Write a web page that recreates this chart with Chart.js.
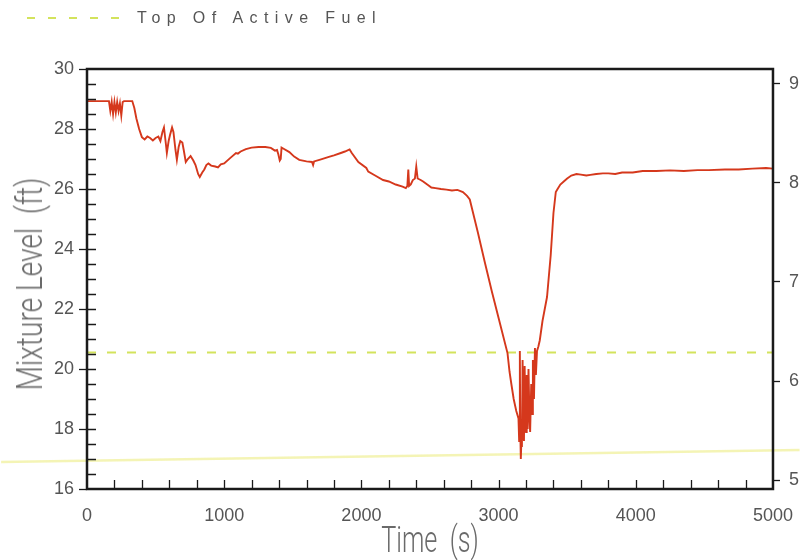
<!DOCTYPE html>
<html lang="en">
<head>
<meta charset="UTF-8">
<title>Mixture Level</title>
<script src="https://cdn.jsdelivr.net/npm/chart.js@4.4.0/dist/chart.umd.min.js"></script>
<style>
    * {
        margin: 0;
        padding: 0;
        box-sizing: border-box;
    }

    body {
        width: 809px;
        height: 560px;
        position: relative;
        overflow: hidden;
        background: #fff;
        font-family: 'Liberation Sans', Arial, sans-serif;
    }

    .chart-box {
        position: absolute;
        left: 0;
        top: 0;
        width: 809px;
        height: 560px;
    }

    /* Legend row above the plot */
    .legend {
        position: absolute;
        left: 27px;
        top: 9px;
        display: flex;
        align-items: center;
        z-index: 2;
    }

    .legend svg {
        display: block;
        margin-right: 18px;
    }

    .legend span {
        font-size: 16px;
        letter-spacing: 6.4px;
        color: #555;
    }

    /* Axis titles, set in a tall condensed light style */
    .axis-title {
        position: absolute;
        font-family: Roboto, 'Liberation Sans', sans-serif;
        font-weight: 300;
        font-size: 36px;
        line-height: 1;
        color: #6a6a6a;
        white-space: pre;
        z-index: 2;
    }

    .axis-title.y {
        left: 30px;
        top: 284px;
        transform: translate(-50%, -50%) rotate(-90deg) scaleX(0.78);
    }

    .axis-title.x {
        left: 430px;
        top: 540px;
        transform: translate(-50%, -50%) scaleX(0.7);
    }
</style>
</head>
<body>
<div class="legend">
    <svg width="92" height="4"><line x1="0" y1="2" x2="92" y2="2" stroke="#d3e35c" stroke-width="2" stroke-dasharray="8 13"/></svg>
    <span>Top Of Active Fuel</span>
</div>
<div class="axis-title y">Mixture Level  (ft)</div>
<div class="axis-title x">Time  (s)</div>
<div class="chart-box"><canvas id="levelChart" width="809" height="560"></canvas></div>

<script>
    // Mixture level history (time in s, level in ft)
    const times = [
        0, 100, 160, 170, 180, 190, 200, 210, 220, 230, 240, 250, 260, 270, 330,
        345, 360, 380, 400, 420, 440, 460, 480, 500, 520, 535, 550, 561, 575, 582,
        595, 605, 620, 630, 645, 655, 668, 680, 695, 705, 720, 735, 755, 775, 791,
        810, 822, 840, 855, 870, 885, 905, 935, 955, 975, 1000, 1043, 1086, 1100, 1120,
        1158, 1200, 1250, 1300, 1340, 1370, 1385, 1395, 1405, 1412, 1418, 1430, 1475, 1510, 1547,
        1600, 1640, 1648, 1655, 1700, 1763, 1800, 1850, 1880, 1914, 1930, 1978, 2036, 2050, 2100,
        2158, 2200, 2250, 2300, 2324, 2335, 2342, 2348, 2360, 2375, 2390, 2400, 2410, 2432, 2450,
        2480, 2510, 2540, 2580, 2620, 2660, 2700, 2740, 2770, 2790, 2849, 2900, 2950, 3000, 3065,
        3080, 3093, 3110, 3129, 3145, 3150, 3155, 3158, 3162, 3166, 3170, 3175, 3180, 3185, 3190,
        3195, 3200, 3205, 3212, 3218, 3225, 3230, 3238, 3245, 3250, 3258, 3265, 3272, 3280, 3290,
        3300, 3320, 3353, 3380, 3400, 3417, 3430, 3450, 3475, 3500, 3530, 3568, 3600, 3640, 3669,
        3712, 3760, 3800, 3850, 3900, 3978, 4050, 4150, 4250, 4350, 4450, 4532, 4650, 4750, 4850,
        4950, 5000
    ];
    const levels = [
        28.93, 28.93, 28.93, 28.6, 28.9, 28.5, 28.9, 28.55, 28.9, 28.6, 28.85, 28.45, 28.9, 28.93, 28.93,
        28.7, 28.35, 28.0, 27.73, 27.65, 27.75, 27.7, 27.62, 27.7, 27.75, 27.6, 27.9, 28.05, 27.5, 27.2,
        27.6, 27.8, 28.05, 27.9, 27.3, 26.97, 27.4, 27.6, 27.55, 27.3, 26.9, 27.0, 27.1, 26.95, 26.8,
        26.5, 26.4, 26.55, 26.65, 26.8, 26.85, 26.78, 26.75, 26.72, 26.82, 26.85, 27.03, 27.2, 27.18, 27.25,
        27.33, 27.38, 27.4, 27.4, 27.37, 27.28, 27.3, 27.15, 26.95, 27.0, 27.38, 27.35, 27.23, 27.08, 26.97,
        26.92, 26.9, 26.8, 26.92, 26.98, 27.07, 27.12, 27.2, 27.25, 27.32, 27.2, 26.9, 26.7, 26.58, 26.45,
        26.3, 26.25, 26.15, 26.08, 26.03, 26.1, 26.65, 26.1, 26.15, 26.3, 26.35, 26.75, 26.35, 26.3, 26.25,
        26.15, 26.05, 26.03, 26.0, 25.98, 25.95, 25.97, 25.9, 25.77, 25.65, 24.55, 23.55, 22.6, 21.7, 20.53,
        19.9, 19.5, 19.0, 18.6, 18.35, 17.6, 20.6, 18.0, 17.0, 17.6, 17.4, 20.3, 18.0, 17.6, 20.1,
        18.2, 17.9, 19.8, 18.0, 20.0, 18.4, 17.9, 19.5, 18.5, 20.3, 19.0, 20.7, 19.8, 20.6, 20.75,
        20.95, 21.6, 22.4, 23.8, 25.2, 25.9, 26.0, 26.15, 26.25, 26.35, 26.45, 26.5, 26.48, 26.45, 26.47,
        26.5, 26.52, 26.52, 26.5, 26.55, 26.55, 26.6, 26.6, 26.62, 26.6, 26.63, 26.63, 26.65, 26.65, 26.68,
        26.7, 26.68
    ];

    // Top of active fuel elevation (ft)
    const fuelTopLevel = 20.55;

    // Faint pale streak crossing the lower part of the sheet
    const streakTimes = [-626, 5194];
    const streakLevels = [16.9, 17.3];

    // Axis tick values
    const timeTicks = [0, 1000, 2000, 3000, 4000, 5000];
    const levelTicks = [16, 18, 20, 22, 24, 26, 28, 30];
    const meterTicks = [5, 6, 7, 8, 9];

    const labelFont = { family: "'Liberation Sans', Arial, sans-serif", size: 18 };

    // Frame around the plot plus the small inward minor ticks
    const frameTicks = {
        id: 'frameTicks',
        afterDatasetsDraw(chart) {
            const { ctx, chartArea: a, scales: { x, y } } = chart;
            ctx.save();
            ctx.strokeStyle = '#1a1a1a';
            ctx.lineWidth = 1.3;
            ctx.beginPath();
            for (let v = y.min + 0.5; v < y.max; v += 0.5) {
                const py = Math.round(y.getPixelForValue(v)) + 0.5;
                ctx.moveTo(a.left, py);
                ctx.lineTo(a.left + 9, py);
            }
            for (let t = 200; t < x.max; t += 200) {
                const px = Math.round(x.getPixelForValue(t)) + 0.5;
                ctx.moveTo(px, a.bottom);
                ctx.lineTo(px, a.bottom - 9);
            }
            ctx.stroke();
            ctx.lineWidth = 2.5;
            ctx.strokeRect(a.left, a.top, a.right - a.left, a.bottom - a.top);
            ctx.restore();
        }
    };

    new Chart(document.getElementById('levelChart'), {
        type: 'line',
        data: {
            datasets: [
                {
                    data: streakTimes.map((t, i) => ({ x: t, y: streakLevels[i] })),
                    borderColor: 'rgba(240, 240, 150, 0.7)',
                    borderWidth: 2.5,
                    pointRadius: 0,
                    clip: false,
                    order: 3
                },
                {
                    data: [{ x: 0, y: fuelTopLevel }, { x: 5000, y: fuelTopLevel }],
                    borderColor: '#d3e35c',
                    borderWidth: 1.8,
                    borderDash: [9, 11],
                    pointRadius: 0,
                    order: 2
                },
                {
                    data: times.map((t, i) => ({ x: t, y: levels[i] })),
                    borderColor: '#d5381c',
                    borderWidth: 1.9,
                    pointRadius: 0,
                    tension: 0,
                    order: 1
                }
            ]
        },
        options: {
            responsive: false,
            animation: false,
            layout: { padding: { top: 69, left: 0, right: 0, bottom: 0 } },
            plugins: {
                legend: { display: false },
                tooltip: { enabled: false }
            },
            scales: {
                x: {
                    type: 'linear',
                    min: 0,
                    max: 5000,
                    afterFit: s => { s.height = 71; },
                    afterBuildTicks: s => { s.ticks = timeTicks.map(v => ({ value: v })); },
                    border: { display: false },
                    grid: { drawOnChartArea: false, drawTicks: false },
                    ticks: { color: '#555', font: labelFont, padding: 16, maxRotation: 0, callback: v => String(v) }
                },
                y: {
                    position: 'left',
                    min: 16,
                    max: 30,
                    afterFit: s => { s.width = 87; },
                    afterBuildTicks: s => { s.ticks = levelTicks.map(v => ({ value: v })); },
                    border: { display: false },
                    grid: { drawOnChartArea: false, tickLength: 8, color: '#1a1a1a', tickWidth: 1.3 },
                    ticks: { color: '#555', font: labelFont, padding: 5 }
                },
                y2: {
                    position: 'right',
                    min: 4.91,
                    max: 9.15,
                    afterFit: s => { s.width = 27; },
                    afterBuildTicks: s => { s.ticks = meterTicks.map(v => ({ value: v })); },
                    border: { display: false },
                    grid: { drawOnChartArea: false, tickLength: 7, color: '#1a1a1a', tickWidth: 1.3 },
                    ticks: { color: '#555', font: labelFont, padding: 9 }
                }
            }
        },
        plugins: [frameTicks]
    });
</script>
</body>
</html>
